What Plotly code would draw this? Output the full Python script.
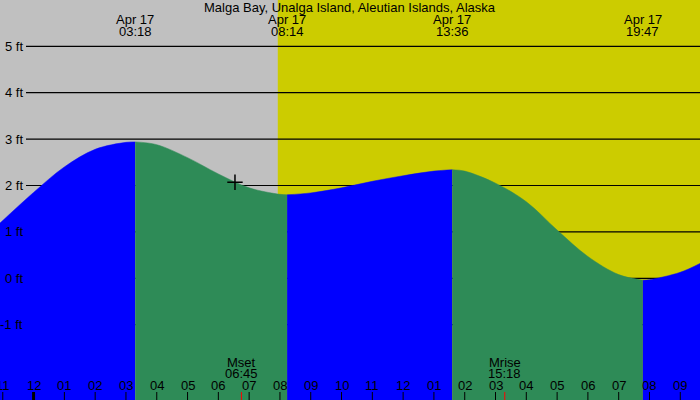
import plotly.graph_objects as go

# ---- data (hours relative to midnight Apr 17, heights in ft) ----
tide_hours = [-1.09, 0, 1, 2, 3, 3.3, 4, 5, 6, 7, 8, 8.233, 9, 10, 11, 12, 13, 13.6,
              14, 15, 16, 17, 18, 19, 19.783, 20, 21, 21.64]
tide_ft = [1.19, 1.85, 2.40, 2.78, 2.93, 2.94, 2.88, 2.60, 2.25, 1.95, 1.81, 1.80, 1.84,
           1.95, 2.09, 2.21, 2.31, 2.34, 2.31, 2.05, 1.65, 1.04, 0.47, 0.08, -0.04, -0.03,
           0.13, 0.32]

extreme_hours = [3.3, 8.233, 13.6, 19.783]
extreme_dates = ["Apr 17", "Apr 17", "Apr 17", "Apr 17"]
extreme_times = ["03:18", "08:14", "13:36", "19:47"]

sunrise_hour = 7.93

moon_hours = [6.75, 15.3]
moon_names = ["Mset", "Mrise"]
moon_times = ["06:45", "15:18"]

now_hour = 6.54
now_ft = 2.07

hour_ticks = list(range(-1, 22))
hour_labels = ["11", "12", "01", "02", "03", "04", "05", "06", "07", "08", "09", "10",
               "11", "12", "01", "02", "03", "04", "05", "06", "07", "08", "09"]

ft_ticks = [5, 4, 3, 2, 1, 0, -1]
ft_labels = ["5 ft", "4 ft", "3 ft", "2 ft", "1 ft", "0 ft", "-1 ft"]

title = "Malga Bay, Unalga Island, Aleutian Islands, Alaska"

X_RANGE = [-1.09, 21.64]
Y_RANGE = [-2.623, 5.998]

BLUE = "#0000FF"
GREEN = "#2E8B57"
GRAY = "#C0C0C0"
YELLOW = "#CCCC00"
FONT = dict(family="Liberation Sans, Arial, sans-serif", size=13, color="black")

fig = go.Figure()

# segments between extremes: rising blue, falling green
bounds = [tide_hours[0]] + extreme_hours + [tide_hours[-1]]
for i in range(len(bounds) - 1):
    a, b = bounds[i], bounds[i + 1]
    xs = [h for h in tide_hours if a - 1e-9 <= h <= b + 1e-9]
    ys = [v for h, v in zip(tide_hours, tide_ft) if a - 1e-9 <= h <= b + 1e-9]
    rising = ys[-1] > ys[0]
    color = BLUE if rising else GREEN
    fig.add_trace(go.Scatter(x=[a, b], y=[Y_RANGE[0], Y_RANGE[0]], mode="lines",
                             line=dict(width=0), hoverinfo="skip", showlegend=False))
    fig.add_trace(go.Scatter(x=xs, y=ys, mode="lines", line=dict(width=0.5, color=color, shape="spline"),
                             fill="tonexty", fillcolor=color, hoverinfo="skip", showlegend=False))

# current-position marker
fig.add_trace(go.Scatter(x=[now_hour], y=[now_ft], mode="markers",
                         marker=dict(symbol="cross-thin", size=11, line=dict(width=1.5, color="black")),
                         showlegend=False, hoverinfo="skip"))

shapes = []
# background: night / day
shapes.append(dict(type="rect", xref="x", yref="paper", x0=X_RANGE[0], x1=sunrise_hour, y0=0, y1=1,
                   fillcolor=GRAY, line=dict(width=0), layer="below"))
shapes.append(dict(type="rect", xref="x", yref="paper", x0=sunrise_hour, x1=X_RANGE[1], y0=0, y1=1,
                   fillcolor=YELLOW, line=dict(width=0), layer="below"))
# horizontal grid lines
for v in ft_ticks:
    shapes.append(dict(type="line", xref="paper", yref="y", x0=26 / 700, x1=1, y0=v, y1=v,
                       line=dict(color="black", width=1.2), layer="below"))
# hour ticks
for h in hour_ticks:
    w = 3 if h == 0 else 1
    shapes.append(dict(type="line", xref="x", yref="paper", x0=h, x1=h, y0=0, y1=8 / 400,
                       line=dict(color="black", width=w), layer="above"))
# moon ticks
for h in moon_hours:
    shapes.append(dict(type="line", xref="x", yref="paper", x0=h, x1=h, y0=0, y1=8 / 400,
                       line=dict(color="red", width=1), layer="above"))

ann = []
ann.append(dict(text=title, x=0.5, y=1 - 7.5 / 400, xref="paper", yref="paper",
                showarrow=False, font=FONT, xanchor="center", yanchor="middle"))
for h, d, t in zip(extreme_hours, extreme_dates, extreme_times):
    ann.append(dict(text=d, x=h, y=1 - 19.5 / 400, xref="x", yref="paper", showarrow=False,
                    font=FONT, xanchor="center", yanchor="middle"))
    ann.append(dict(text=t, x=h, y=1 - 31.5 / 400, xref="x", yref="paper", showarrow=False,
                    font=FONT, xanchor="center", yanchor="middle"))
for h, n, t in zip(moon_hours, moon_names, moon_times):
    ann.append(dict(text=n, x=h, y=1 - 362 / 400, xref="x", yref="paper", showarrow=False,
                    font=FONT, xanchor="center", yanchor="middle"))
    ann.append(dict(text=t, x=h, y=1 - 373.5 / 400, xref="x", yref="paper", showarrow=False,
                    font=FONT, xanchor="center", yanchor="middle"))
for h, lab in zip(hour_ticks, hour_labels):
    ann.append(dict(text=lab, x=h, y=1 - 385.5 / 400, xref="x", yref="paper", showarrow=False,
                    font=FONT, xanchor="center", yanchor="middle"))
for v, lab in zip(ft_ticks, ft_labels):
    ann.append(dict(text=lab, x=25 / 700, y=v, xref="paper", yref="y", showarrow=False,
                    font=FONT, xanchor="right", yanchor="middle"))

fig.update_layout(
    width=700, height=400,
    margin=dict(l=0, r=0, t=0, b=0),
    paper_bgcolor=GRAY, plot_bgcolor=GRAY,
    xaxis=dict(range=X_RANGE, visible=False, fixedrange=True),
    yaxis=dict(range=Y_RANGE, visible=False, fixedrange=True),
    shapes=shapes, annotations=ann, showlegend=False,
)

fig.write_html("out.html", config={"displayModeBar": False})
